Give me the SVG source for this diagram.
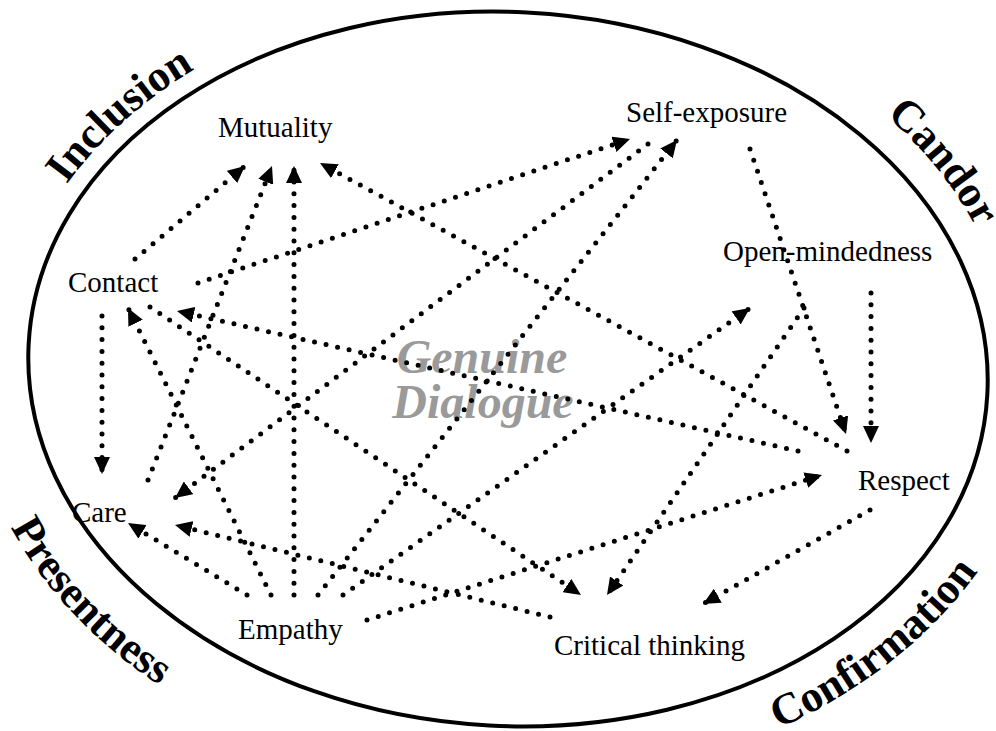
<svg xmlns="http://www.w3.org/2000/svg" width="996" height="731" viewBox="0 0 996 731">
<style>
.node{font-family:"Liberation Serif","Times New Roman",serif;font-size:29px;fill:#000}
.corner{font-family:"Liberation Serif","Times New Roman",serif;font-size:44px;font-weight:bold;fill:#000}
.center{font-family:"Liberation Serif","Times New Roman",serif;font-size:48px;font-weight:bold;font-style:italic;fill:#9a9a9a;text-anchor:middle}
.c{fill:none;stroke:#000;stroke-width:5;stroke-linecap:round;stroke-dasharray:0 11.8;marker-end:url(#ah)}
</style>
<defs>
<marker id="ah" markerUnits="userSpaceOnUse" markerWidth="17" markerHeight="16" viewBox="0 0 17 16" refX="17" refY="8" orient="auto"><path d="M0,0 L17,8 L0,16 Z" fill="#000"/></marker>
<path id="pInc" d="M22,269 A503,382 0 0 1 295,22"/>
<path id="pCan" d="M818,67 A503,382 0 0 1 1000,289"/>
<path id="pPre" d="M-22,441 A538,417 0 0 0 256,736"/>
<path id="pCon" d="M647,771 A538,417 0 0 0 1028,476"/>
</defs>
<rect width="996" height="731" fill="#fff"/>
<ellipse id="boundary" cx="508" cy="369" rx="480" ry="357" transform="rotate(3 508 369)" fill="none" stroke="#000" stroke-width="4"/>
<g id="labels">
<text class="corner"><textPath href="#pInc" startOffset="48%" text-anchor="middle">Inclusion</textPath></text>
<text class="corner"><textPath href="#pCan" startOffset="53%" text-anchor="middle">Candor</textPath></text>
<text class="corner"><textPath href="#pPre" startOffset="48%" text-anchor="middle">Presentness</textPath></text>
<text class="corner"><textPath href="#pCon" startOffset="53%" text-anchor="middle">Confirmation</textPath></text>
</g>
<g id="title">
<text class="center" x="482" y="373">Genuine</text>
<text class="center" x="483" y="418">Dialogue</text>
</g>
<g id="connectors">
<path class="c" d="M135,259 L245,166"/>
<path class="c" d="M148,480 L272,166"/>
<path class="c" d="M294,595 L294,166"/>
<path class="c" d="M847,451 L320,163"/>
<path class="c" d="M271,595 L128,308"/>
<path class="c" d="M798,451 L177,311"/>
<path class="c" d="M102,316 L102,474"/>
<path class="c" d="M198,283 L630,139"/>
<path class="c" d="M150,307 L581,595"/>
<path class="c" d="M648,144 L175,498"/>
<path class="c" d="M750,149 L846,434"/>
<path class="c" d="M318,595 L677,140"/>
<path class="c" d="M343,595 L750,308"/>
<path class="c" d="M367,620 L822,475"/>
<path class="c" d="M247,595 L128,523"/>
<path class="c" d="M871,293 L871,443"/>
<path class="c" d="M804,308 L607,595"/>
<path class="c" d="M870,510 L703,604"/>
<path class="c" d="M550,617 L175,525"/>
</g>
<g id="mutuality"><text class="node" x="218" y="137">Mutuality</text></g>
<g id="self-exposure"><text class="node" x="626" y="122">Self-exposure</text></g>
<g id="contact"><text class="node" x="68" y="292">Contact</text></g>
<g id="open-mindedness"><text class="node" x="723" y="261">Open-mindedness</text></g>
<g id="respect"><text class="node" x="858" y="490">Respect</text></g>
<g id="care"><text class="node" x="72" y="522">Care</text></g>
<g id="empathy"><text class="node" x="238" y="639">Empathy</text></g>
<g id="critical-thinking"><text class="node" x="554" y="655">Critical thinking</text></g>
</svg>
